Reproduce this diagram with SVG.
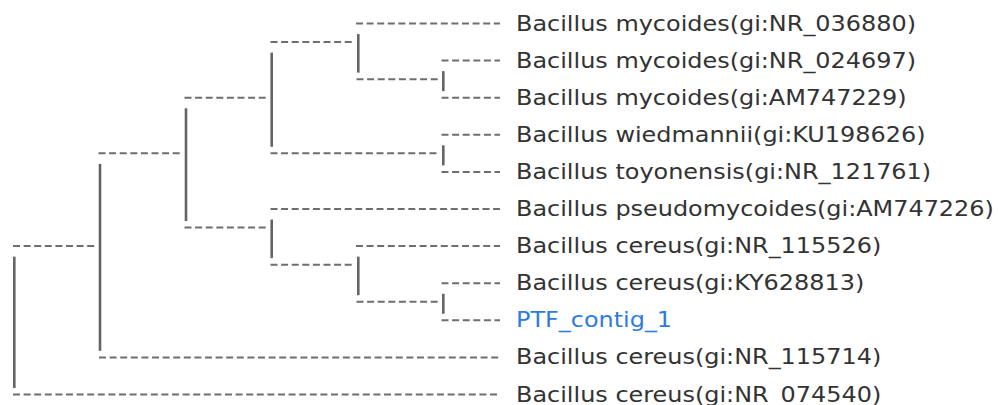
<svg xmlns="http://www.w3.org/2000/svg" width="998" height="405" viewBox="0 0 998 405">
<style>
.h{stroke:#6e6e6e;stroke-width:2;stroke-dasharray:7 3.6;fill:none}
.v{stroke:#646464;stroke-width:2.6;fill:none}
.t{font-family:"DejaVu Sans",Verdana,sans-serif;font-size:21px;fill:#333}
.q{fill:#2e7be0}
</style>
<rect width="998" height="405" fill="#fff"/>
<g id="connectors">
<line class="h" x1="356" y1="23.5" x2="500" y2="23.5"/>
<line class="h" x1="441.5" y1="60.6" x2="500" y2="60.6"/>
<line class="h" x1="441.5" y1="97.7" x2="500" y2="97.7"/>
<line class="h" x1="441.5" y1="134.8" x2="500" y2="134.8"/>
<line class="h" x1="441.5" y1="171.9" x2="500" y2="171.9"/>
<line class="h" x1="270.5" y1="209" x2="500" y2="209"/>
<line class="h" x1="356" y1="246.1" x2="500" y2="246.1"/>
<line class="h" x1="441.5" y1="283.2" x2="500" y2="283.2"/>
<line class="h" x1="441.5" y1="320.3" x2="500" y2="320.3"/>
<line class="h" x1="99" y1="357.4" x2="500" y2="357.4"/>
<line class="h" x1="13" y1="394.5" x2="500" y2="394.5"/>
<line class="h" x1="13" y1="246.1" x2="96" y2="246.1"/>
<line class="h" x1="98.5" y1="153.35" x2="182" y2="153.35"/>
<line class="h" x1="184.5" y1="97.7" x2="268" y2="97.7"/>
<line class="h" x1="184.5" y1="227.55" x2="268" y2="227.55"/>
<line class="h" x1="270.5" y1="42.05" x2="354" y2="42.05"/>
<line class="h" x1="270.5" y1="153.35" x2="439" y2="153.35"/>
<line class="h" x1="356.5" y1="79.15" x2="439" y2="79.15"/>
<line class="h" x1="270.5" y1="264.65" x2="354" y2="264.65"/>
<line class="h" x1="356.5" y1="301.75" x2="439" y2="301.75"/>
<line class="v" x1="14.3" y1="256.65" x2="14.3" y2="387.95"/>
<line class="v" x1="100" y1="163.9" x2="100" y2="350.85"/>
<line class="v" x1="186" y1="108.25" x2="186" y2="221"/>
<line class="v" x1="271.7" y1="52.6" x2="271.7" y2="146.8"/>
<line class="v" x1="271.7" y1="219.55" x2="271.7" y2="258.1"/>
<line class="v" x1="358.3" y1="34.05" x2="358.3" y2="72.6"/>
<line class="v" x1="358.3" y1="256.65" x2="358.3" y2="295.2"/>
<line class="v" x1="443.3" y1="71.15" x2="443.3" y2="91.15"/>
<line class="v" x1="443.3" y1="145.35" x2="443.3" y2="165.35"/>
<line class="v" x1="443.3" y1="293.75" x2="443.3" y2="313.75"/>
</g>
<g id="leaf1"><text class="t" transform="translate(516,30.5) scale(1.14,1)">Bacillus mycoides(gi:NR_036880)</text></g>
<g id="leaf2"><text class="t" transform="translate(516,67.6) scale(1.14,1)">Bacillus mycoides(gi:NR_024697)</text></g>
<g id="leaf3"><text class="t" transform="translate(516,104.7) scale(1.14,1)">Bacillus mycoides(gi:AM747229)</text></g>
<g id="leaf4"><text class="t" transform="translate(516,141.8) scale(1.14,1)">Bacillus wiedmannii(gi:KU198626)</text></g>
<g id="leaf5"><text class="t" transform="translate(516,178.9) scale(1.14,1)">Bacillus toyonensis(gi:NR_121761)</text></g>
<g id="leaf6"><text class="t" transform="translate(516,216) scale(1.14,1)">Bacillus pseudomycoides(gi:AM747226)</text></g>
<g id="leaf7"><text class="t" transform="translate(516,253.1) scale(1.14,1)">Bacillus cereus(gi:NR_115526)</text></g>
<g id="leaf8"><text class="t" transform="translate(516,290.2) scale(1.14,1)">Bacillus cereus(gi:KY628813)</text></g>
<g id="leaf9"><text class="t q" transform="translate(516,327.3) scale(1.14,1)">PTF_contig_1</text></g>
<g id="leaf10"><text class="t" transform="translate(516,364.4) scale(1.14,1)">Bacillus cereus(gi:NR_115714)</text></g>
<g id="leaf11"><text class="t" transform="translate(516,401.5) scale(1.14,1)">Bacillus cereus(gi:NR_074540)</text></g>
</svg>
